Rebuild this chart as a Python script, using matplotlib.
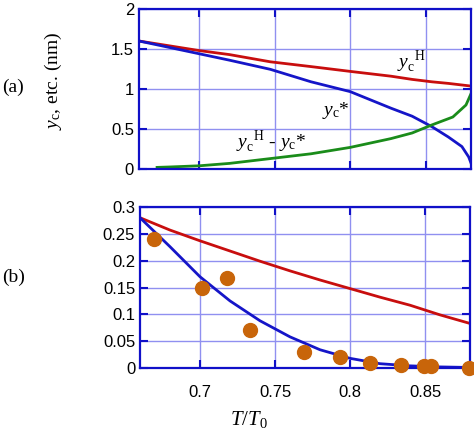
import matplotlib
matplotlib.use("Agg")
import matplotlib.pyplot as plt
import numpy as np

plt.rcParams['mathtext.fontset'] = 'custom'
plt.rcParams['mathtext.rm'] = 'Liberation Serif'
plt.rcParams['mathtext.it'] = 'Liberation Serif:italic'

# top panel (a)
xa = [0.66, 0.68, 0.70, 0.72, 0.747, 0.774, 0.80, 0.827, 0.841, 0.854, 0.865, 0.874, 0.8785, 0.8807]
yc_h = [1.60, 1.54, 1.48, 1.43, 1.34, 1.28, 1.22, 1.16, 1.12, 1.09, 1.07, 1.05, 1.04, 1.035]
yc_star = [1.60, 1.52, 1.44, 1.36, 1.246, 1.09, 0.967, 0.76, 0.66, 0.53, 0.40, 0.28, 0.15, 0.04]
xg = [0.672, 0.68, 0.70, 0.72, 0.747, 0.774, 0.80, 0.827, 0.841, 0.854, 0.868, 0.8767, 0.8807]
y_diff = [0.02, 0.025, 0.04, 0.07, 0.13, 0.19, 0.27, 0.38, 0.45, 0.55, 0.65, 0.80, 0.97]

# bottom panel (b)
xb = [0.66, 0.68, 0.70, 0.72, 0.74, 0.76, 0.78, 0.80, 0.82, 0.84, 0.86, 0.88]
red_b = [0.280, 0.257, 0.237, 0.218, 0.199, 0.181, 0.164, 0.148, 0.132, 0.117, 0.099, 0.083]
blue_b = [0.280, 0.226, 0.170, 0.125, 0.088, 0.058, 0.034, 0.018, 0.008, 0.004, 0.002, 0.001]
pts_x = [0.669, 0.701, 0.718, 0.733, 0.769, 0.793, 0.813, 0.834, 0.849, 0.854, 0.879]
pts_y = [0.240, 0.150, 0.168, 0.071, 0.029, 0.021, 0.009, 0.006, 0.004, 0.004, 0.0]

frame = '#1010c8'
gridc = '#9090f0'
red = '#c80e0e'
blue = '#1515c8'
green = '#1a8c1a'
orange = '#c8650a'

fig = plt.figure(figsize=(4.74, 4.37), dpi=100)
ax1 = fig.add_axes([0.2932, 0.6133, 0.7004, 0.3661])
ax2 = fig.add_axes([0.2954, 0.1579, 0.6962, 0.3684])

for ax in (ax1, ax2):
    ax.set_xlim(0.66, 0.88)
    ax.set_xticks([0.7, 0.75, 0.8, 0.85])
    ax.grid(True, color=gridc, lw=1.0)
    for s in ax.spines.values():
        s.set_color(frame)
        s.set_linewidth(1.6)
    ax.tick_params(direction='in', length=6, width=1.5, color=frame,
                   top=True, right=True, labelsize=12)
    for lab in ax.get_xticklabels() + ax.get_yticklabels():
        lab.set_family('Liberation Sans')

ax1.plot(xa, yc_h, color=red, lw=2)
ax1.plot(xa, yc_star, color=blue, lw=2)
ax1.plot(xg, y_diff, color=green, lw=2)
ax1.set_ylim(0, 2)
ax1.set_yticks([0, 0.5, 1, 1.5, 2])
ax1.set_yticklabels(['0', '0.5', '1', '1.5', '2'])
ax1.tick_params(labelbottom=False)
ax1.set_ylabel(r'$y_{\mathrm{c}}$, etc. (nm)', family='Liberation Serif', fontsize=14)
ax1.yaxis.set_label_coords(-0.225, 0.55)
ax1.text(0.831, 1.33, r'$y_{\mathrm{c}}^{\ \ \mathrm{H}}$', fontsize=14, va='center')
ax1.text(0.781, 0.73, r'$y_{\mathrm{c}}$*', fontsize=14, va='center', family='Liberation Serif')
ax1.text(0.724, 0.34, r'$y_{\mathrm{c}}^{\ \ \mathrm{H}}$ - $y_{\mathrm{c}}$*', fontsize=14, va='center',
         family='Liberation Serif')

ax2.plot(xb, red_b, color=red, lw=2)
ax2.plot(xb, blue_b, color=blue, lw=2)
ax2.plot(pts_x, pts_y, 'o', color=orange, ms=10, clip_on=False, zorder=5)
ax2.set_ylim(0, 0.3)
ax2.set_yticks([0, 0.05, 0.1, 0.15, 0.2, 0.25, 0.3])
ax2.set_yticklabels(['0', '0.05', '0.1', '0.15', '0.2', '0.25', '0.3'])
ax2.set_xticklabels(['0.7', '0.75', '0.8', '0.85'])
ax2.tick_params(axis='x', pad=12)

fig.text(0.524, 0.04, r'$T/T_0$', fontsize=15, ha='center', va='center')
fig.text(0.004, 0.80, '(a)', fontsize=14, family='Liberation Serif', va='center')
fig.text(0.004, 0.365, '(b)', fontsize=14, family='Liberation Serif', va='center')

fig.savefig('out.png', dpi=100)
